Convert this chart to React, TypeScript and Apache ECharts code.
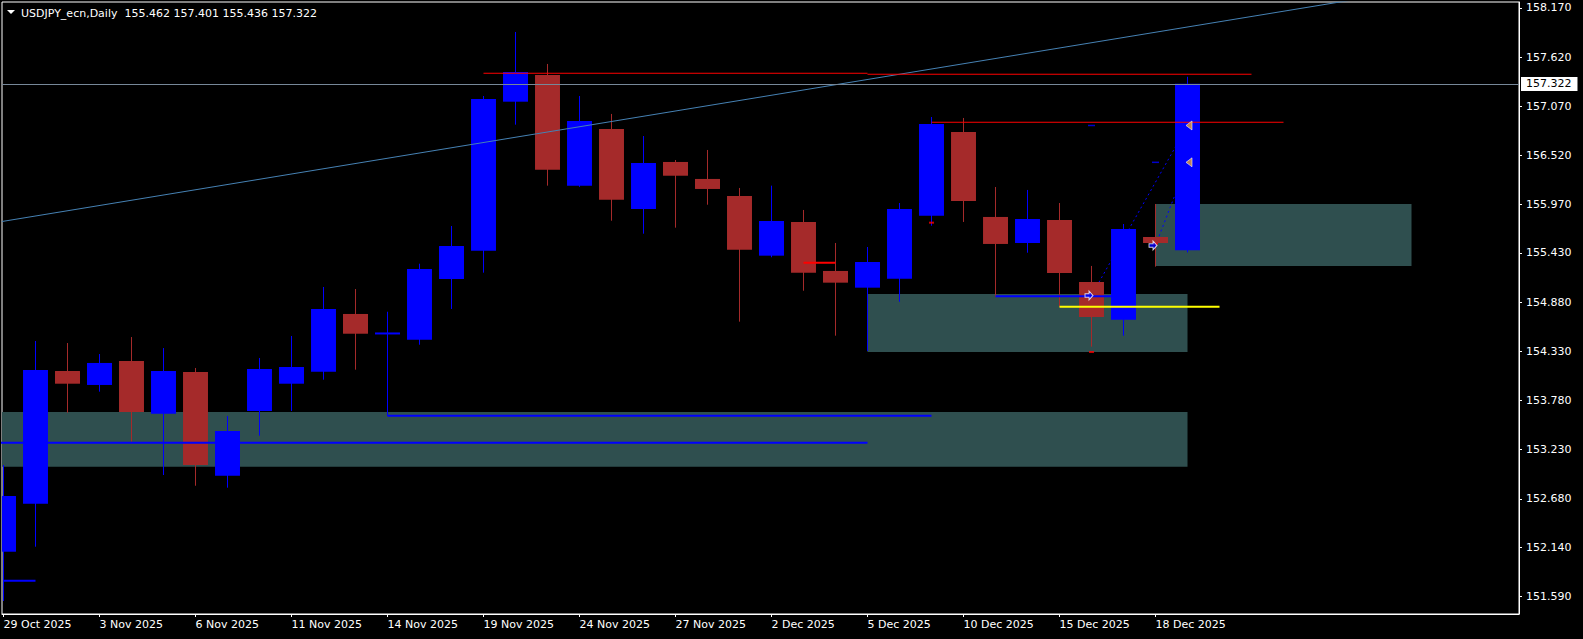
import React, { useEffect, useRef } from "react";
import * as echarts from "echarts";

// ---------- data ----------
const symbolTitle = "USDJPY_ecn,Daily";
const dates = [
  "29 Oct 2025", "30 Oct 2025", "31 Oct 2025", "3 Nov 2025", "4 Nov 2025", "5 Nov 2025",
  "6 Nov 2025", "7 Nov 2025", "10 Nov 2025", "11 Nov 2025", "12 Nov 2025", "13 Nov 2025",
  "14 Nov 2025", "17 Nov 2025", "18 Nov 2025", "19 Nov 2025", "20 Nov 2025", "21 Nov 2025",
  "24 Nov 2025", "25 Nov 2025", "26 Nov 2025", "27 Nov 2025", "28 Nov 2025", "1 Dec 2025",
  "2 Dec 2025", "3 Dec 2025", "4 Dec 2025", "5 Dec 2025", "8 Dec 2025", "9 Dec 2025",
  "10 Dec 2025", "11 Dec 2025", "12 Dec 2025", "15 Dec 2025", "16 Dec 2025", "17 Dec 2025",
  "18 Dec 2025", "19 Dec 2025",
];
const opens = [152.089, 152.626, 154.110, 153.954, 154.222, 153.633, 154.099, 152.939, 153.663, 153.968, 154.102, 154.748, 154.530, 154.460, 155.139, 155.456, 157.122, 157.421, 156.183, 156.817, 155.922, 156.448, 156.258, 156.067, 155.400, 155.777, 155.229, 155.042, 155.143, 155.847, 156.783, 155.833, 155.542, 155.799, 155.106, 154.684, 155.609, 155.462];
const closes = [152.712, 154.121, 153.968, 154.200, 153.652, 154.110, 153.059, 153.439, 154.133, 154.155, 154.804, 154.527, 154.530, 155.251, 155.508, 157.152, 157.454, 156.362, 156.906, 156.026, 156.436, 156.294, 156.146, 155.467, 155.788, 155.210, 155.098, 155.329, 155.922, 156.873, 156.012, 155.531, 155.810, 155.206, 154.714, 155.698, 155.542, 157.322];
const lows = [151.538, 152.145, 153.644, 153.879, 153.320, 152.947, 152.827, 152.805, 153.387, 153.663, 154.013, 154.125, 153.610, 154.404, 154.804, 155.210, 156.865, 156.183, 156.170, 155.791, 155.646, 155.713, 155.970, 154.662, 155.382, 155.008, 154.505, 154.334, 154.885, 155.735, 155.777, 154.941, 155.433, 154.829, 154.382, 154.505, 155.277, 155.436];
const highs = [153.059, 154.446, 154.423, 154.300, 154.490, 154.367, 154.144, 153.607, 154.256, 154.502, 155.050, 155.027, 154.773, 155.310, 155.732, 157.186, 157.902, 157.544, 157.186, 156.985, 156.738, 156.470, 156.582, 156.157, 156.183, 155.911, 155.542, 155.497, 155.989, 156.951, 156.940, 156.168, 156.135, 155.989, 155.285, 155.754, 155.978, 157.401];

const yTicks = [158.17, 157.62, 157.07, 156.52, 155.97, 155.43, 154.88, 154.33, 153.78, 153.23, 152.68, 152.14, 151.59];
const xTickIdx = [0, 3, 6, 9, 12, 15, 18, 21, 24, 27, 30, 33, 36];

// zones: [fromBar, toBar, lowPrice, highPrice]
const zones = [
  [-3, 37, 153.040, 153.652],
  [27, 37, 154.323, 154.971],
  [36, 44, 155.285, 155.978],
];
// horizontal segments: [fromBar, toBar, price]
const redLines = [
  [15, 27, 157.440],
  [27, 39, 157.429],
  [29, 40, 156.892],
];
const redShort = [[25, 26, 155.321]];
const blueLines = [
  [12, 29, 153.610],
  [-3, 27, 153.308],
  [0, 1, 151.765],
  [31, 35, 154.946],
];
const yellowLines = [[33, 38, 154.828]];
// trend line points: [bar, price]
const trendLine = [[-0.047, 155.782], [47.36, 158.566]];
// trades
const entries = [[34, 154.955], [36, 155.514]];
const exits = [[37, 156.856], [37, 156.444]];
const blueDashes = [[34, 156.856], [36, 156.444]];
const redDashes = [[34, 154.323], [36, 155.534], [29, 155.769]];

// ---------- style ----------
const FONT = "DejaVu Sans";
const BULL = "#0000FF";
const BEAR = "#A52A2A";
const ZONE = "#2F4F4F";
const X_MIN = -0.046875;
const X_MAX = 47.359;
const Y_MIN = 151.3925;
const Y_MAX = 158.237;

function seg(list: number[][], color: string, width: number, z: number, type: any = "solid") {
  return list.map((s) => ({
    type: "line",
    silent: true,
    z,
    showSymbol: false,
    symbol: "none",
    data: [[s[0], s[2]], [s[1], s[2]]],
    lineStyle: { color, width, type },
    emphasis: { disabled: true },
  }));
}

export default function App() {
  const ref = useRef<HTMLDivElement>(null);
  useEffect(() => {
    if (!ref.current) return;
    const chart = echarts.init(ref.current, null, { renderer: "svg" });
    const last = opens.length - 1;
    const candleData = opens.map((o, i) => [i, o, closes[i], lows[i], highs[i]]);

    const option: any = {
      animation: false,
      backgroundColor: "#000",
      grid: { left: 2, top: 2, right: 64, bottom: 25, show: true, borderColor: "#fff", borderWidth: 1, backgroundColor: "#000" },
      xAxis: {
        type: "value",
        min: X_MIN,
        max: X_MAX,
        splitLine: { show: false },
        axisLine: { show: true, onZero: false, lineStyle: { color: "#fff" } },
        axisTick: { show: true, customValues: xTickIdx, length: 3, lineStyle: { color: "#fff" } },
        axisLabel: {
          customValues: xTickIdx,
          formatter: (v: number) => dates[Math.round(v)] || "",
          color: "#fff",
          fontFamily: FONT,
          fontSize: 11,
          align: "left",
          margin: 5,
        },
      },
      yAxis: {
        type: "value",
        position: "right",
        min: Y_MIN,
        max: Y_MAX,
        splitLine: { show: false },
        axisLine: { show: true, onZero: false, lineStyle: { color: "#fff" } },
        axisTick: { show: true, customValues: yTicks, length: 3, lineStyle: { color: "#fff" } },
        axisLabel: {
          customValues: yTicks,
          formatter: (v: number) => v.toFixed(3),
          color: "#fff",
          fontFamily: FONT,
          fontSize: 11,
          margin: 7,
        },
      },
      graphic: [
        { type: "polygon", shape: { points: [[7, 10], [15, 10], [11, 14]] }, style: { fill: "#fff" }, z: 100 },
        {
          type: "text",
          x: 21,
          y: 13,
          z: 100,
          style: {
            text: `${symbolTitle}  ${opens[last].toFixed(3)} ${highs[last].toFixed(3)} ${lows[last].toFixed(3)} ${closes[last].toFixed(3)}`,
            fill: "#fff",
            font: `11px "${FONT}"`,
            verticalAlign: "middle",
          },
        },
      ],
      series: [
        {
          type: "custom",
          silent: true,
          z: 1,
          data: zones,
          renderItem: (params: any, api: any) => {
            const p1 = api.coord([api.value(0), api.value(3)]);
            const p2 = api.coord([api.value(1), api.value(2)]);
            const r = echarts.graphic.clipRectByRect(
              { x: p1[0], y: p1[1], width: p2[0] - p1[0], height: p2[1] - p1[1] },
              params.coordSys
            );
            if (!r) return null;
            return { type: "rect", shape: r, style: { fill: ZONE } };
          },
        },
        ...entries.map((e, k) => ({
          type: "line",
          silent: true,
          z: 2,
          showSymbol: false,
          symbol: "none",
          data: [e, exits[k]],
          lineStyle: { color: BULL, width: 1, type: [2, 3] },
        })),
        {
          type: "custom",
          silent: true,
          z: 3,
          data: candleData,
          encode: { x: 0, y: [1, 2, 3, 4] },
          renderItem: (params: any, api: any) => {
            const i = api.value(0);
            const o = api.value(1);
            const c = api.value(2);
            const l = api.value(3);
            const h = api.value(4);
            const color = c >= o ? BULL : BEAR;
            const top = api.coord([i, Math.max(o, c)]);
            const bot = api.coord([i, Math.min(o, c)]);
            const hi = api.coord([i, h]);
            const lo = api.coord([i, l]);
            const bw = api.size([1, 0])[0] * 0.78;
            let y = top[1];
            let hgt = bot[1] - top[1];
            if (hgt < 2) {
              y = (top[1] + bot[1]) / 2 - 1;
              hgt = 2;
            }
            const body = echarts.graphic.clipRectByRect(
              { x: top[0] - bw / 2, y, width: bw, height: hgt },
              params.coordSys
            );
            const children: any[] = [
              { type: "line", shape: { x1: hi[0], y1: hi[1], x2: lo[0], y2: lo[1] }, style: { stroke: color, lineWidth: 1 } },
            ];
            if (body) children.push({ type: "rect", shape: body, style: { fill: color } });
            return { type: "group", children };
          },
          markLine: {
            silent: true,
            symbol: "none",
            animation: false,
            data: [{ yAxis: closes[last] }],
            lineStyle: { color: "#778899", type: "solid", width: 1 },
            label: {
              position: "end",
              distance: 2,
              formatter: () => closes[last].toFixed(3),
              backgroundColor: "#fff",
              color: "#000",
              fontFamily: FONT,
              fontSize: 11,
              lineHeight: 12,
              padding: [1, 6, 1, 5],
            },
          },
        },
        {
          type: "line",
          silent: true,
          z: 4,
          showSymbol: false,
          symbol: "none",
          data: trendLine,
          lineStyle: { color: "#4682B4", width: 1 },
        },
        ...seg(redLines, "#FF0000", 1, 4),
        ...seg(redShort, "#FF0000", 2, 4),
        ...seg(blueLines, BULL, 2, 4),
        ...seg(yellowLines, "#FFFF00", 2, 4),
        {
          type: "scatter",
          silent: true,
          z: 5,
          data: blueDashes,
          symbol: "rect",
          symbolSize: [7, 1.5],
          itemStyle: { color: BULL },
        },
        {
          type: "scatter",
          silent: true,
          z: 5,
          data: redDashes,
          symbol: "rect",
          symbolSize: [5, 2],
          itemStyle: { color: "#FF0000" },
        },
        {
          type: "scatter",
          silent: true,
          z: 6,
          data: entries,
          symbol: "path://M0,3L5,3L5,0L10,5L5,10L5,7L0,7Z",
          symbolSize: [8, 9],
          symbolOffset: [-2.5, 0],
          itemStyle: { color: BULL, borderColor: "#fff", borderWidth: 1 },
        },
        {
          type: "scatter",
          silent: true,
          z: 6,
          data: exits,
          symbol: "path://M10,0L10,10L0,5Z",
          symbolSize: [6, 9],
          symbolOffset: [1.5, 0],
          itemStyle: { color: "#E8A030", borderColor: "#fff", borderWidth: 0.7 },
        },
      ],
    };
    chart.setOption(option);
    return () => chart.dispose();
  }, []);
  return (
    <div
      ref={ref}
      style={{ position: "fixed", left: 0, top: 0, width: 1583, height: 639, background: "#000" }}
    />
  );
}
